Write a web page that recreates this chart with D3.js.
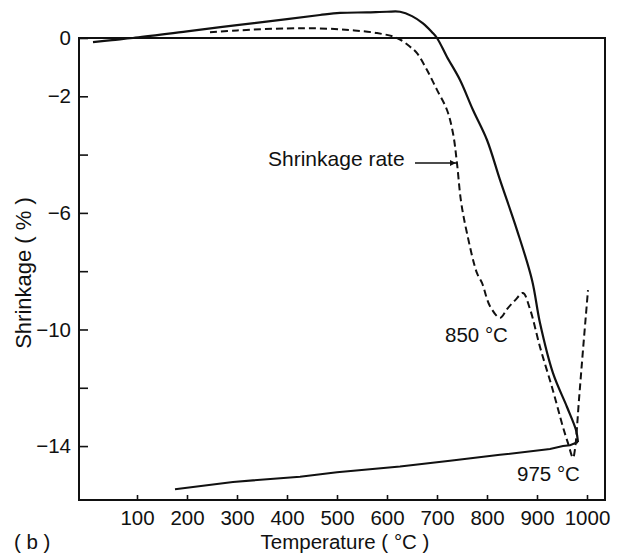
<!DOCTYPE html>
<html>
<head>
<meta charset="utf-8">
<script src="https://cdn.jsdelivr.net/npm/d3@7"></script>
<style>
  body { margin: 0; background: #fff; }
  text { font-family: "Liberation Sans", Arial, sans-serif; fill: #111; }
</style>
</head>
<body>
<svg width="626" height="559"></svg>
<script>
// heating curve (solid)
const heatTemp = [12, 50, 92, 200, 300, 400, 466, 506, 560, 600, 626, 650, 672, 690, 700, 720, 746, 772, 800, 826, 860, 890, 906, 932, 960, 978, 982]
const heatShrink = [-0.14, -0.07, 0, 0.23, 0.44, 0.65, 0.79, 0.86, 0.88, 0.9, 0.9, 0.75, 0.5, 0.2, 0, -0.65, -1.44, -2.47, -3.5, -4.87, -6.59, -8.3, -9.78, -11.5, -12.66, -13.45, -13.86]
// cooling curve (solid)
const coolTemp = [982, 966, 952, 926, 826, 726, 626, 500, 426, 292, 176]
const coolShrink = [-13.86, -13.97, -14.0, -14.1, -14.3, -14.5, -14.7, -14.9, -15.05, -15.23, -15.48]
// shrinkage rate (dashed)
const rateTemp = [246, 300, 400, 466, 526, 580, 620, 646, 660, 680, 700, 720, 732, 740, 748, 760, 780, 790, 806, 826, 840, 856, 872, 886, 906, 932, 952, 962, 972, 976, 984, 992, 1002]
const rateVals = [0.2, 0.26, 0.33, 0.33, 0.27, 0.17, 0, -0.3, -0.52, -1.1, -1.78, -2.47, -3.27, -4.3, -5.6, -6.7, -8.07, -8.4, -9.2, -9.6, -9.3, -9.0, -8.75, -9.3, -10.6, -12.1, -13.35, -13.9, -14.4, -14.1, -12.4, -10.7, -8.65]

const xTicks = [100, 200, 300, 400, 500, 600, 700, 800, 900, 1000]
const yTicks = [0, -2, -4, -6, -8, -10, -12, -14]
const yLabeled = [0, -2, -6, -10, -14]

const svg = d3.select("svg")
const x = d3.scaleLinear().domain([-16, 1036]).range([79, 605])
const y = d3.scaleLinear().domain([-15.85, 0]).range([500, 38])

// frame
svg.append("rect")
    .attr("x", x.range()[0]).attr("y", y.range()[1])
    .attr("width", x.range()[1] - x.range()[0])
    .attr("height", y.range()[0] - y.range()[1])
    .attr("fill", "none").attr("stroke", "#111").attr("stroke-width", 2)

const fmt = d => d < 0 ? "\u2212" + Math.abs(d) : "" + d

const gx = svg.append("g")
    .attr("transform", `translate(0,${y.range()[0]})`)
    .call(d3.axisBottom(x).tickValues(xTicks).tickSize(-5).tickPadding(10).tickFormat(d3.format("d")))
const gy = svg.append("g")
    .attr("transform", `translate(${x.range()[0]},0)`)
    .call(d3.axisLeft(y).tickValues(yTicks).tickSize(-9).tickPadding(8)
        .tickFormat(d => yLabeled.includes(d) ? fmt(d) : ""))

for (const g of [gx, gy]) {
    g.select(".domain").remove()
    g.selectAll("line").attr("stroke", "#111").attr("stroke-width", 1.6)
    g.selectAll("text").attr("font-size", 20.5).attr("fill", "#111")
        .style("font-family", '"Liberation Sans", Arial, sans-serif')
}

const line = d3.line().x(d => x(d[0])).y(d => y(d[1])).curve(d3.curveCatmullRom.alpha(0.5))
const heat = d3.zip(heatTemp, heatShrink)
const cool = d3.zip(coolTemp, coolShrink)
const rate = d3.zip(rateTemp, rateVals)

svg.append("path").attr("d", line(heat))
    .attr("fill", "none").attr("stroke", "#111").attr("stroke-width", 2.2)
svg.append("path").attr("d", d3.line().x(d => x(d[0])).y(d => y(d[1]))(cool))
    .attr("fill", "none").attr("stroke", "#111").attr("stroke-width", 2)
svg.append("path").attr("d", line(rate))
    .attr("fill", "none").attr("stroke", "#111").attr("stroke-width", 2)
    .attr("stroke-dasharray", "7,4")

// arrow marker
svg.append("defs").append("marker")
    .attr("id", "arr").attr("viewBox", "0 0 10 10")
    .attr("refX", 10).attr("refY", 5)
    .attr("markerWidth", 9).attr("markerHeight", 6)
    .attr("markerUnits", "userSpaceOnUse")
    .attr("orient", "auto")
    .append("path").attr("d", "M0,0L10,5L0,10z").attr("fill", "#111")

svg.append("text").attr("x", 268).attr("y", 166)
    .attr("font-size", 21).text("Shrinkage rate")
svg.append("line")
    .attr("x1", 415).attr("y1", 163).attr("x2", x(740) - 1).attr("y2", 163)
    .attr("stroke", "#111").attr("stroke-width", 1.5)
    .attr("marker-end", "url(#arr)")

svg.append("text").attr("x", 445).attr("y", 342).attr("font-size", 20.5).text("850 \u00B0C")
svg.append("text").attr("x", 517).attr("y", 481).attr("font-size", 20.5).text("975 \u00B0C")

svg.append("text").attr("x", 345).attr("y", 549).attr("text-anchor", "middle")
    .attr("font-size", 20.5).text("Temperature ( \u00B0C )")
svg.append("text").attr("x", 14).attr("y", 549)
    .attr("font-size", 20.5).text("( b )")
svg.append("text")
    .attr("transform", "translate(31,273) rotate(-90)")
    .attr("text-anchor", "middle")
    .attr("font-size", 22).text("Shrinkage ( % )")
</script>
</body>
</html>
